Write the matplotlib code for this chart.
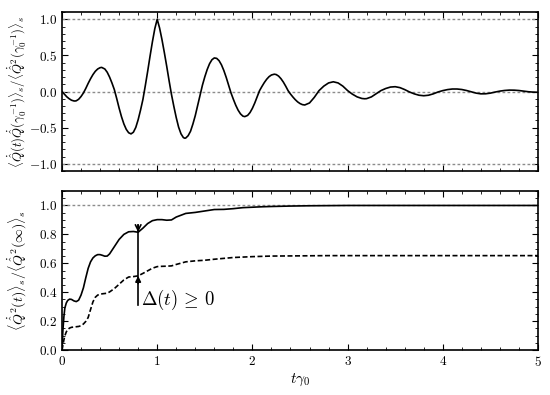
import matplotlib
matplotlib.use("Agg")
import matplotlib.pyplot as plt
from matplotlib.ticker import MultipleLocator, FuncFormatter

plt.rcParams['mathtext.fontset'] = 'cm'
plt.rcParams['font.family'] = 'serif'

# top panel: normalised velocity correlation
t_corr = [0.000, 0.025, 0.050, 0.075, 0.100, 0.125, 0.137, 0.150, 0.175, 0.200,
          0.225, 0.250, 0.275, 0.300, 0.325, 0.350, 0.375, 0.400, 0.417, 0.450,
          0.475, 0.500, 0.525, 0.550, 0.575, 0.600, 0.625, 0.650, 0.675, 0.700,
          0.725, 0.750, 0.775, 0.800, 0.825, 0.850, 0.875, 0.900, 0.925, 0.950,
          0.975, 1.000, 1.025, 1.050, 1.075, 1.100, 1.125, 1.150, 1.175, 1.200,
          1.225, 1.250, 1.275, 1.290, 1.300, 1.325, 1.350, 1.375, 1.400, 1.425,
          1.450, 1.475, 1.500, 1.525, 1.550, 1.575, 1.600, 1.625, 1.650, 1.675,
          1.700, 1.725, 1.750, 1.775, 1.800, 1.825, 1.850, 1.875, 1.900, 1.920,
          1.950, 1.975, 2.000, 2.025, 2.050, 2.075, 2.100, 2.125, 2.150, 2.175,
          2.200, 2.230, 2.250, 2.275, 2.300, 2.325, 2.350, 2.375, 2.400, 2.425,
          2.450, 2.475, 2.500, 2.525, 2.550, 2.60, 2.65, 2.70, 2.75, 2.80,
          2.85, 2.90, 2.95, 3.00, 3.05, 3.10, 3.15, 3.18, 3.20, 3.25,
          3.30, 3.35, 3.40, 3.45, 3.50, 3.55, 3.60, 3.65, 3.70, 3.75,
          3.80, 3.85, 3.90, 3.95, 4.00, 4.05, 4.10, 4.15, 4.20, 4.25,
          4.30, 4.35, 4.40, 4.45, 4.50, 4.55, 4.60, 4.65, 4.70, 4.75,
          4.80, 4.85, 4.90, 4.95, 5.00]
corr = [0.0, -0.037, -0.072, -0.099, -0.12, -0.13, -0.131, -0.128, -0.107, -0.069,
        -0.02, 0.043, 0.113, 0.177, 0.234, 0.28, 0.312, 0.33, 0.334, 0.312,
        0.267, 0.20, 0.118, 0.026, -0.098, -0.229, -0.348, -0.448, -0.523, -0.57,
        -0.586, -0.563, -0.497, -0.39, -0.257, -0.11, 0.08, 0.28, 0.49, 0.69,
        0.87, 1.0, 0.88, 0.72, 0.54, 0.35, 0.15, -0.04, -0.206, -0.36,
        -0.493, -0.585, -0.637, -0.646, -0.643, -0.611, -0.55, -0.45, -0.333, -0.191,
        -0.043, 0.087, 0.203, 0.304, 0.385, 0.44, 0.465, 0.459, 0.427, 0.37,
        0.291, 0.196, 0.089, -0.018, -0.107, -0.189, -0.258, -0.309, -0.34, -0.347,
        -0.33, -0.291, -0.232, -0.158, -0.072, 0.012, 0.07, 0.124, 0.17, 0.206,
        0.229, 0.24, 0.235, 0.214, 0.178, 0.131, 0.074, 0.012, -0.034, -0.075,
        -0.112, -0.143, -0.166, -0.181, -0.186, -0.158, -0.081, 0.013, 0.075, 0.119,
        0.135, 0.119, 0.075, 0.013, -0.036, -0.074, -0.096, -0.10, -0.098, -0.074,
        -0.031, 0.013, 0.042, 0.062, 0.067, 0.054, 0.027, -0.006, -0.032, -0.051,
        -0.058, -0.051, -0.032, -0.006, 0.013, 0.027, 0.035, 0.035, 0.028, 0.014,
        -0.004, -0.022, -0.032, -0.031, -0.022, -0.007, 0.006, 0.015, 0.02, 0.019,
        0.014, 0.006, -0.003, -0.008, -0.01]

# bottom panel: normalised mean square velocity
t_msq = [0, 0.01, 0.02, 0.03, 0.045, 0.06, 0.08, 0.1, 0.125, 0.15, 0.175, 0.2,
         0.225, 0.25, 0.275, 0.3, 0.325, 0.35, 0.375, 0.4, 0.425, 0.45, 0.475,
         0.5, 0.55, 0.6, 0.65, 0.7, 0.75, 0.8, 0.85, 0.9, 0.95, 1.0, 1.05, 1.1,
         1.15, 1.2, 1.3, 1.4, 1.5, 1.6, 1.7, 1.8, 1.9, 2.0, 2.1, 2.2, 2.4, 2.6,
         2.8, 3.0, 3.5, 4.0, 4.5, 5.0]
msq_full = [0, 0.14, 0.23, 0.29, 0.325, 0.343, 0.352, 0.35, 0.34, 0.335, 0.345, 0.38,
            0.43, 0.5, 0.565, 0.61, 0.637, 0.652, 0.66, 0.66, 0.655, 0.649, 0.65,
            0.665, 0.715, 0.765, 0.8, 0.818, 0.82, 0.815, 0.843, 0.875, 0.895, 0.902, 0.902, 0.898,
            0.9, 0.92, 0.945, 0.952, 0.962, 0.972, 0.973, 0.978, 0.985, 0.988, 0.991, 0.993, 0.996, 0.998,
            0.999, 1.0, 1.0, 1.0, 1.0, 1.0]
msq_part = [0, 0.035, 0.07, 0.098, 0.125, 0.142, 0.152, 0.157, 0.159, 0.161, 0.163, 0.168,
            0.18, 0.198, 0.225, 0.28, 0.333, 0.365, 0.38, 0.386, 0.389, 0.391, 0.393,
            0.402, 0.425, 0.455, 0.485, 0.505, 0.508, 0.513, 0.53, 0.548, 0.566, 0.577, 0.579, 0.58,
            0.582, 0.592, 0.61, 0.617, 0.621, 0.628, 0.634, 0.64, 0.643, 0.646, 0.648, 0.65, 0.651, 0.652,
            0.653, 0.653, 0.653, 0.653, 0.653, 0.653]

top_refs = [-1.0, 0.0, 1.0]
arrow_t = 0.8

fig = plt.figure(figsize=(5.5, 3.95), dpi=100)
ax1 = fig.add_axes([0.1127, 0.567, 0.8655, 0.4025])
ax2 = fig.add_axes([0.1127, 0.1139, 0.8655, 0.4025])

gray_dash = dict(color='0.55', lw=1.0, ls=(0, (2, 1.6)))

for y in top_refs:
    ax1.axhline(y, **gray_dash)
ax1.plot(t_corr, corr, color='k', lw=1.2)
ax1.set_xlim(0, 5)
ax1.set_ylim(-1.1, 1.1)
ax1.yaxis.set_major_locator(MultipleLocator(0.5))
ax1.yaxis.set_minor_locator(MultipleLocator(0.1))
ax1.set_ylabel(r'$\langle\dot{\hat{Q}}(t)\dot{\hat{Q}}(\gamma_0^{-1})\rangle_s/'
               r'\langle\dot{\hat{Q}}^2(\gamma_0^{-1})\rangle_s$', fontsize=9.2)
ax1.tick_params(labelbottom=False)

ax2.axhline(1.0, **gray_dash)
ax2.plot(t_msq, msq_full, color='k', lw=1.2)
ax2.plot(t_msq, msq_part, color='k', lw=1.2, ls=(0, (3, 1.5)))
ax2.set_xlim(0, 5)
ax2.set_ylim(0, 1.1)
ax2.yaxis.set_major_locator(MultipleLocator(0.2))
ax2.yaxis.set_minor_locator(MultipleLocator(0.05))
ax2.set_ylabel(r'$\langle\dot{\hat{Q}}^2(t)\rangle_s/\langle\dot{\hat{Q}}^2(\infty)\rangle_s$',
               fontsize=10)
ax2.set_xlabel(r'$t\gamma_0$', fontsize=11, labelpad=2)
ax2.xaxis.set_major_formatter(FuncFormatter(lambda v, p: '$%d$' % v))

# Delta(t) arrow
ax2.plot([arrow_t, arrow_t], [0.31, 0.865], color='k', lw=1.2)
ax2.annotate('', xy=(arrow_t, 0.815), xytext=(arrow_t, 0.865),
             arrowprops=dict(arrowstyle='->', color='k', lw=1.2, shrinkA=0, shrinkB=0))
ax2.annotate('', xy=(arrow_t, 0.513), xytext=(arrow_t, 0.46),
             arrowprops=dict(arrowstyle='-|>', color='k', lw=1.2, shrinkA=0, shrinkB=0,
                             mutation_scale=8))
ax2.text(0.83, 0.345, r'$\Delta(t)\,\geq\,0$', fontsize=13.5, va='center', ha='left')

for ax in (ax1, ax2):
    ax.xaxis.set_major_locator(MultipleLocator(1))
    ax.xaxis.set_minor_locator(MultipleLocator(0.2))
    ax.yaxis.set_major_formatter(FuncFormatter(lambda v, p: '$%.1f$' % v))
    ax.tick_params(which='both', direction='in', top=True, right=True, labelsize=9.5)
    ax.tick_params(which='major', length=4, width=0.8)
    ax.tick_params(which='minor', length=2, width=0.6)
    for s in ax.spines.values():
        s.set_linewidth(1.2)
    ax.yaxis.set_label_coords(-0.072, 0.5)

fig.savefig('out.png', dpi=100)
